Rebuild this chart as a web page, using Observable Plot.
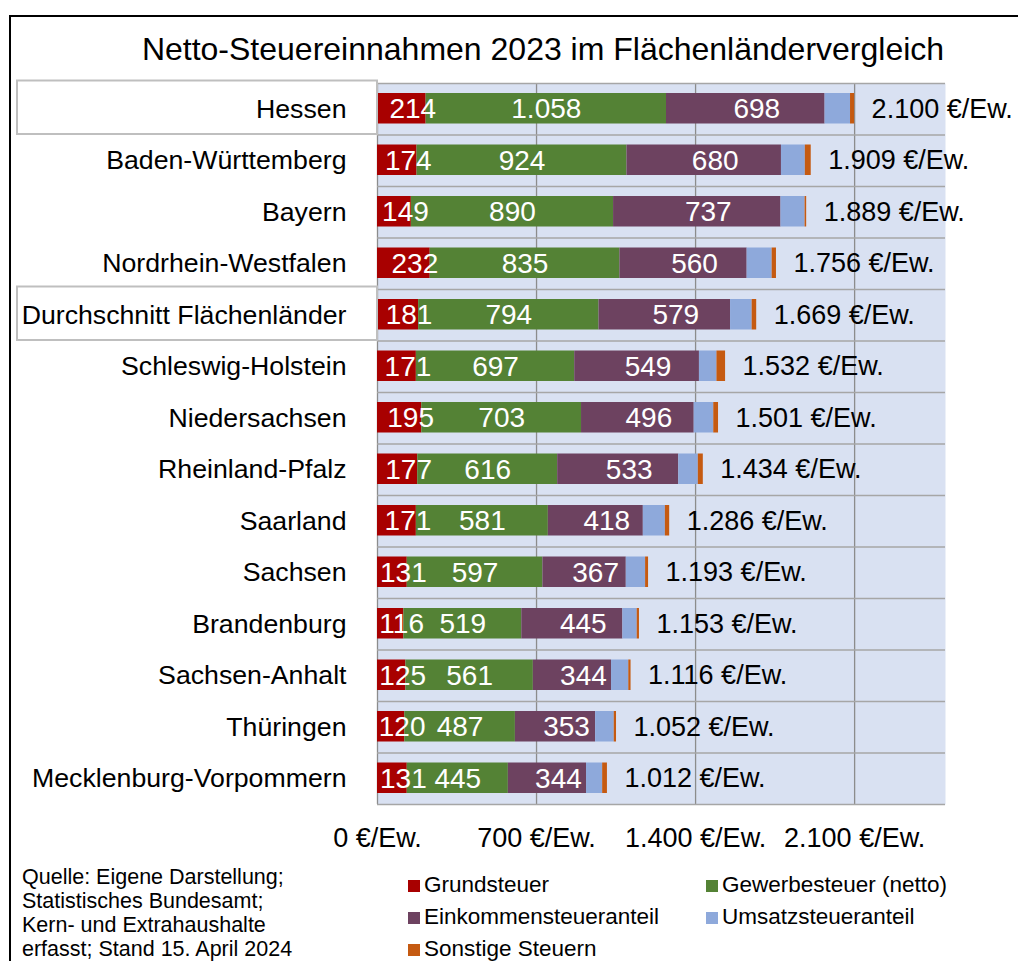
<!DOCTYPE html>
<html><head><meta charset="utf-8">
<script src="https://cdn.jsdelivr.net/npm/d3@7"></script>
<script src="https://cdn.jsdelivr.net/npm/@observablehq/plot@0.6"></script>
<style>
body{margin:0;background:#fff;font-family:"Liberation Sans",Arial,sans-serif;color:#000;}
#wrap{position:relative;width:1018px;height:961px;overflow:hidden;}
#chart{position:absolute;left:0;top:0;}
#border{position:absolute;left:9px;top:15px;width:1100px;height:1000px;border-left:2px solid #000;border-top:2px solid #000;}
#title{position:absolute;left:0;width:1086px;top:33px;text-align:center;font-size:32px;line-height:32px;white-space:nowrap;}
#caption{position:absolute;left:22px;top:865px;font-size:21.5px;line-height:24px;white-space:nowrap;}
#legend{position:absolute;left:408px;top:869px;display:grid;grid-template-columns:298px 298px;font-size:22.5px;line-height:32px;white-space:nowrap;}
.sw{display:inline-block;width:12px;height:12px;margin-right:4px;}
</style></head>
<body>
<div id="wrap">
  <div id="chart"></div>
  <div id="border"></div>
  <div id="title">Netto-Steuereinnahmen 2023 im Flächenländervergleich</div>
  <div id="caption">Quelle: Eigene Darstellung;<br>Statistisches Bundesamt;<br>Kern- und Extrahaushalte<br>erfasst; Stand 15. April 2024</div>
  <div id="legend"></div>
</div>
<script>
const states = ["Hessen","Baden-Württemberg","Bayern","Nordrhein-Westfalen","Durchschnitt Flächenländer","Schleswig-Holstein","Niedersachsen","Rheinland-Pfalz","Saarland","Sachsen","Brandenburg","Sachsen-Anhalt","Thüringen","Mecklenburg-Vorpommern"];
const highlighted = ["Hessen","Durchschnitt Flächenländer"];
const components = ["Grundsteuer","Gewerbesteuer (netto)","Einkommensteueranteil","Umsatzsteueranteil","Sonstige Steuern"];
const grundsteuer     = [214,174,149,232,181,171,195,177,171,131,116,125,120,131];
const gewerbesteuer   = [1058,924,890,835,794,697,703,616,581,597,519,561,487,445];
const einkommensteuer = [698,680,737,560,579,549,496,533,418,367,445,344,353,344];
const umsatzsteuer    = [112,105,106,110,95,77,86,86,97,85,63,76,82,71];
const sonstige        = [18,26,7,19,20,38,21,22,19,13,10,10,10,21];
const totals          = [2100,1909,1889,1756,1669,1532,1501,1434,1286,1193,1153,1116,1052,1012];
const xTicks = [0,700,1400,2100];
const colors = ["#A80000","#548235","#6D4260","#8EA9DB","#C55A11"];

const fmt = n => d3.format(",")(n).replace(/,/g, ".");
const series = [grundsteuer, gewerbesteuer, einkommensteuer, umsatzsteuer, sonstige];
const rows = [];
states.forEach((s, i) => {
  let acc = 0;
  components.forEach((c, j) => {
    const v = series[j][i];
    rows.push({state: s, comp: c, value: v, x1: acc, x2: acc + v});
    acc += v;
  });
});

const W = 1018, H = 870, mT = 83, mB = 66, mL = 377, mR = 73;
const band = (H - mT - mB) / states.length;
const font = "'Liberation Sans', Arial, sans-serif";

const chart = Plot.plot({
  width: W, height: H,
  marginTop: mT, marginBottom: mB, marginLeft: mL, marginRight: mR,
  style: {fontFamily: font, background: "transparent", color: "#000"},
  x: {domain: [0, 2500]},
  y: {domain: states, padding: 0, round: false},
  color: {domain: components, range: colors},
  marks: [
    Plot.frame({fill: "#D9E1F2", stroke: null}),
    Plot.ruleX(xTicks, {stroke: "#8C8C8C", strokeWidth: 1.3}),
    Plot.ruleY(states, {y: d => d, dy: -band / 2, stroke: "#A6A6A6", strokeWidth: 1.3}),
    Plot.ruleY([states[states.length - 1]], {y: d => d, dy: band / 2, stroke: "#A6A6A6", strokeWidth: 1.3}),
    Plot.barX(rows, {x1: "x1", x2: "x2", y: "state", fill: "comp", insetTop: 10, insetBottom: 11}),
    Plot.text(rows.filter(d => d.comp === components[1]), {
      x: d => (d.x1 + d.x2) / 2, y: "state", text: d => fmt(d.value), fill: "white", fontSize: 28
    }),
    Plot.text(rows.filter(d => d.comp === components[0] || d.comp === components[2]), {
      x: d => (d.x1 + d.x2) / 2, y: "state", text: d => fmt(d.value), fill: "white", fontSize: 28, dx: 11
    }),
    Plot.text(states, {
      x: (d, i) => totals[i], y: d => d, text: (d, i) => fmt(totals[i]) + " €/Ew.",
      dx: 17, textAnchor: "start", fontSize: 27, fill: "black"
    }),
    Plot.barX(highlighted, {
      x1: 0, x2: 0, y: d => d, insetLeft: -360, insetTop: -2.5, insetBottom: 0.5,
      fill: "none", stroke: "#BFBFBF", strokeWidth: 2
    }),
    Plot.axisX({ticks: xTicks, tickFormat: d => fmt(d) + " €/Ew.", tickSize: 0, tickPadding: 23, fontSize: 27, label: null}),
    Plot.axisY({tickSize: 0, tickPadding: 31, fontSize: 26.7, label: null})
  ]
});
document.getElementById("chart").appendChild(chart);

const legend = document.getElementById("legend");
components.forEach((c, i) => {
  const item = document.createElement("div");
  const sw = document.createElement("span");
  sw.className = "sw";
  sw.style.background = colors[i];
  item.appendChild(sw);
  item.appendChild(document.createTextNode(c));
  legend.appendChild(item);
});
</script>
</body></html>
